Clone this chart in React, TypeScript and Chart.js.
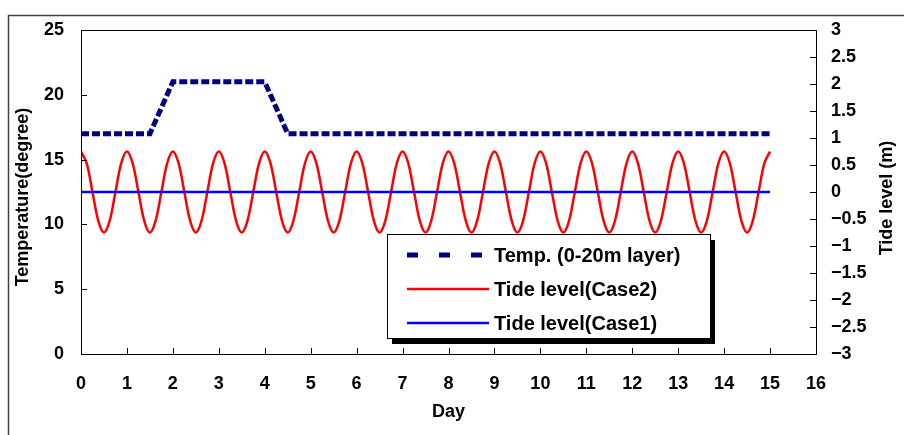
import React, { useEffect, useRef } from 'react';
import { Chart, registerables } from 'chart.js';

Chart.register(...registerables);

// ---- data ----
const tempDays = [0, 1.5, 2, 4, 4.5, 15];
const tempValues = [17, 17, 21, 21, 17, 17];

const tideDays = [
  0, 0.125, 0.25, 0.375, 0.5, 0.625, 0.75, 0.875,
  1, 1.125, 1.25, 1.375, 1.5, 1.625, 1.75, 1.875,
  2, 2.125, 2.25, 2.375, 2.5, 2.625, 2.75, 2.875,
  3, 3.125, 3.25, 3.375, 3.5, 3.625, 3.75, 3.875,
  4, 4.125, 4.25, 4.375, 4.5, 4.625, 4.75, 4.875,
  5, 5.125, 5.25, 5.375, 5.5, 5.625, 5.75, 5.875,
  6, 6.125, 6.25, 6.375, 6.5, 6.625, 6.75, 6.875,
  7, 7.125, 7.25, 7.375, 7.5, 7.625, 7.75, 7.875,
  8, 8.125, 8.25, 8.375, 8.5, 8.625, 8.75, 8.875,
  9, 9.125, 9.25, 9.375, 9.5, 9.625, 9.75, 9.875,
  10, 10.125, 10.25, 10.375, 10.5, 10.625, 10.75, 10.875,
  11, 11.125, 11.25, 11.375, 11.5, 11.625, 11.75, 11.875,
  12, 12.125, 12.25, 12.375, 12.5, 12.625, 12.75, 12.875,
  13, 13.125, 13.25, 13.375, 13.5, 13.625, 13.75, 13.875,
  14, 14.125, 14.25, 14.375, 14.5, 14.625, 14.75, 14.875,
  15,
];
const tideCase2 = [
  0.75, 0.53, 0, -0.53, -0.75, -0.53, 0, 0.53,
  0.75, 0.53, 0, -0.53, -0.75, -0.53, 0, 0.53,
  0.75, 0.53, 0, -0.53, -0.75, -0.53, 0, 0.53,
  0.75, 0.53, 0, -0.53, -0.75, -0.53, 0, 0.53,
  0.75, 0.53, 0, -0.53, -0.75, -0.53, 0, 0.53,
  0.75, 0.53, 0, -0.53, -0.75, -0.53, 0, 0.53,
  0.75, 0.53, 0, -0.53, -0.75, -0.53, 0, 0.53,
  0.75, 0.53, 0, -0.53, -0.75, -0.53, 0, 0.53,
  0.75, 0.53, 0, -0.53, -0.75, -0.53, 0, 0.53,
  0.75, 0.53, 0, -0.53, -0.75, -0.53, 0, 0.53,
  0.75, 0.53, 0, -0.53, -0.75, -0.53, 0, 0.53,
  0.75, 0.53, 0, -0.53, -0.75, -0.53, 0, 0.53,
  0.75, 0.53, 0, -0.53, -0.75, -0.53, 0, 0.53,
  0.75, 0.53, 0, -0.53, -0.75, -0.53, 0, 0.53,
  0.75, 0.53, 0, -0.53, -0.75, -0.53, 0, 0.53,
  0.75,
];

const case1Days = [0, 15];
const case1Values = [0, 0];

const seriesLabels = ['Temp. (0-20m layer)', 'Tide level(Case2)', 'Tide level(Case1)'];
const axisTitles = { x: 'Day', y: 'Temperature(degree)', y2: 'Tide level (m)' };

// ---- styles ----
const FONT = '"Liberation Sans", Arial, sans-serif';
const tickFont = { family: FONT, size: 18, weight: 'bold' as const };
const titleFont = { family: FONT, size: 18, weight: 'bold' as const };

const pts = (xs: number[], ys: number[]) => xs.map((x, i) => ({ x, y: ys[i] }));

const decorPlugin = {
  id: 'decor',
  beforeDraw(chart: any) {
    const ctx = chart.ctx;
    ctx.save();
    ctx.fillStyle = '#ffffff';
    ctx.fillRect(0, 0, chart.width, chart.height);
    ctx.strokeStyle = '#404040';
    ctx.lineWidth = 1.5;
    ctx.beginPath();
    ctx.moveTo(8.5, chart.height);
    ctx.lineTo(8.5, 15.5);
    ctx.lineTo(chart.width, 15.5);
    ctx.stroke();
    ctx.restore();
  },
  afterDraw(chart: any) {
    const ctx = chart.ctx;
    const a = chart.chartArea;
    ctx.save();
    ctx.strokeStyle = '#000';
    ctx.lineWidth = 1;
    // plot box
    ctx.strokeRect(Math.round(a.left) + 0.5, Math.round(a.top) + 0.5, Math.round(a.right - a.left), Math.round(a.bottom - a.top));
    // inward ticks
    const tl = 6;
    ctx.beginPath();
    chart.scales.x.ticks.forEach((t: any) => {
      const px = Math.round(chart.scales.x.getPixelForValue(t.value)) + 0.5;
      ctx.moveTo(px, a.bottom);
      ctx.lineTo(px, a.bottom - tl);
    });
    chart.scales.y.ticks.forEach((t: any) => {
      const py = Math.round(chart.scales.y.getPixelForValue(t.value)) + 0.5;
      ctx.moveTo(a.left, py);
      ctx.lineTo(a.left + tl, py);
    });
    chart.scales.y2.ticks.forEach((t: any) => {
      const py = Math.round(chart.scales.y2.getPixelForValue(t.value)) + 0.5;
      ctx.moveTo(a.right, py);
      ctx.lineTo(a.right - tl, py);
    });
    ctx.stroke();

    // axis titles (both read bottom-to-top)
    ctx.fillStyle = '#000';
    ctx.font = `bold 18px ${FONT}`;
    ctx.textAlign = 'center';
    ctx.textBaseline = 'middle';
    [[23, 197, axisTitles.y], [887, 198, axisTitles.y2]].forEach(([x, y, txt]: any) => {
      ctx.save();
      ctx.translate(x, y);
      ctx.rotate(-Math.PI / 2);
      ctx.fillText(txt, 0, 0);
      ctx.restore();
    });

    // legend
    const bx = 387, by = 234, bw = 323, bh = 104;
    ctx.fillStyle = '#000';
    ctx.fillRect(bx + 5, by + 6, bw, bh);
    ctx.fillStyle = '#fff';
    ctx.fillRect(bx, by, bw, bh);
    ctx.strokeStyle = '#000';
    ctx.lineWidth = 1;
    ctx.strokeRect(bx + 0.5, by + 0.5, bw, bh);
    const rows = [255, 289, 323];
    const order = [0, 2, 1];
    order.forEach((di, i) => {
      const ds = chart.data.datasets[di];
      const y = rows[i];
      ctx.save();
      ctx.strokeStyle = ds.borderColor;
      ctx.lineWidth = di === 0 ? 5 : 2.5;
      ctx.setLineDash(di === 0 ? [11, 21] : []);
      ctx.beginPath();
      ctx.moveTo(407, y);
      ctx.lineTo(489, y);
      ctx.stroke();
      ctx.restore();
      ctx.fillStyle = '#000';
      ctx.font = `bold 20px ${FONT}`;
      ctx.textBaseline = 'middle';
      ctx.textAlign = 'left';
      ctx.fillText(ds.label, 494, y + 1);
    });
    ctx.restore();
  },
};

export default function App() {
  const ref = useRef<HTMLCanvasElement>(null);
  useEffect(() => {
    const chart = new Chart(ref.current as HTMLCanvasElement, {
      type: 'line',
      data: {
        datasets: [
          {
            label: seriesLabels[0],
            data: pts(tempDays, tempValues),
            yAxisID: 'y',
            borderColor: '#000080',
            borderWidth: 5,
            borderDash: [8, 3],
            pointRadius: 0,
            tension: 0,
          },
          {
            label: seriesLabels[2],
            data: pts(case1Days, case1Values),
            yAxisID: 'y2',
            borderColor: '#0000ff',
            borderWidth: 2.5,
            pointRadius: 0,
          },
          {
            label: seriesLabels[1],
            data: pts(tideDays, tideCase2),
            yAxisID: 'y2',
            borderColor: '#ff0000',
            borderWidth: 2.5,
            pointRadius: 0,
            tension: 0.33,
          },
        ],
      },
      options: {
        responsive: false,
        animation: false,
        events: [],
        layout: { padding: { top: 30, left: 0, right: 0, bottom: 0 } },
        plugins: { legend: { display: false }, tooltip: { enabled: false } },
        scales: {
          x: {
            type: 'linear',
            min: 0,
            max: 16,
            grid: { display: false },
            border: { display: false },
            ticks: { stepSize: 1, autoSkip: false, font: tickFont, color: '#000', padding: 11, maxRotation: 0 },
            title: { display: true, text: axisTitles.x, font: titleFont, color: '#000', padding: { top: 0, bottom: 12 } },
            afterFit: (s: any) => { s.height = 81; },
          },
          y: {
            type: 'linear',
            position: 'left',
            min: 0,
            max: 25,
            grid: { display: false },
            border: { display: false },
            ticks: { stepSize: 5, autoSkip: false, font: tickFont, color: '#000', padding: 9 },
            afterFit: (s: any) => { s.width = 81; },
          },
          y2: {
            type: 'linear',
            position: 'right',
            min: -3,
            max: 3,
            grid: { display: false },
            border: { display: false },
            ticks: {
              stepSize: 0.5,
              autoSkip: false,
              font: tickFont,
              color: '#000',
              padding: 7,
              callback: (v: any) => String(v).replace('-', '\u2212'),
            },
            afterFit: (s: any) => { s.width = 88; },
          },
        },
      },
      plugins: [decorPlugin],
    } as any);
    return () => chart.destroy();
  }, []);
  return (
    <div style={{ position: 'fixed', left: 0, top: 0, width: 904, height: 435, background: '#fff' }}>
      <canvas ref={ref} width={904} height={435} style={{ display: 'block', width: 904, height: 435 }} />
    </div>
  );
}
